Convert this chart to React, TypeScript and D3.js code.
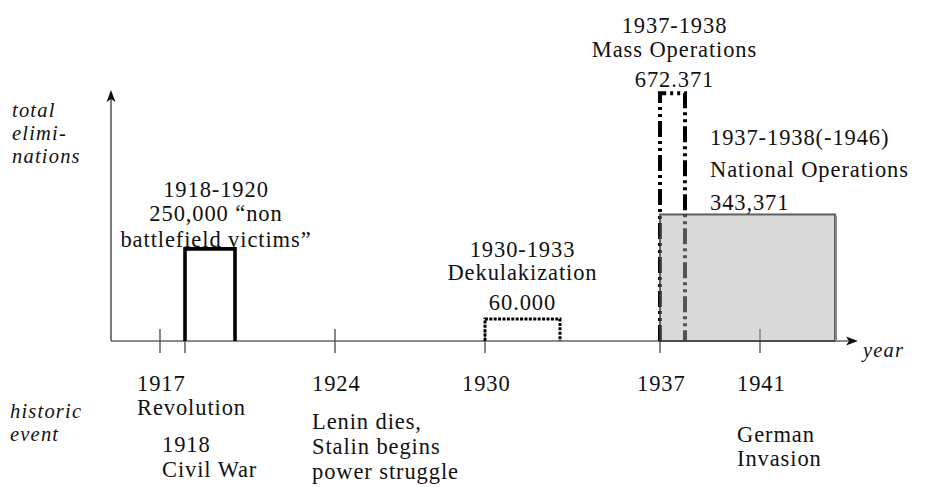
import * as d3 from "d3";

// periods of repression (start year, end year, total eliminations)
const periodNames = ["civil", "dekulak", "mass", "national"];
const periodStarts = [1918, 1930, 1937, 1937];
const periodEnds = [1920, 1933, 1938, 1944];
const periodValues = [250000, 60000, 672371, 343371];

const tickYears = [1917, 1918, 1924, 1930, 1937, 1941];

// label lines above the periods
const civilLabel = ["1918-1920", "250,000 \u201cnon", "battlefield victims\u201d"];
const dekulakLabel = ["1930-1933", "Dekulakization", "60.000"];
const massLabel = ["1937-1938", "Mass Operations", "672.371"];
const nationalLabel = ["1937-1938(-1946)", "National Operations", "343,371"];

// historic events under the axis
const eventYears = [1917, 1918, 1924, 1930, 1937, 1941];
const eventLines = [
  ["Revolution"],
  ["Civil War"],
  ["Lenin dies,", "Stalin begins", "power struggle"],
  [],
  [],
  ["German", "Invasion"],
];

const W = 930;
const H = 487;
const AXIS_Y = 341;
const AXIS_X = 111;
const FONT = "'Liberation Serif', 'Times New Roman', serif";
const FS = 22.5;
const LS = "0.9px";

const x = d3.scaleLinear().domain([1917, 1924]).range([160, 335]);
const y = d3.scaleLinear().domain([0, 700000]).range([AXIS_Y, AXIS_Y - 258]);

function Lines({ lines, x0, baselines, anchor = "middle", italic = false }) {
  return (
    <text
      fontFamily={FONT}
      fontSize={italic ? 20.5 : FS}
      letterSpacing={italic ? "1.2px" : LS}
      fontStyle={italic ? "italic" : "normal"}
      textAnchor={anchor}
      fill="#111"
    >
      {lines.map((t, i) => (
        <tspan key={i} x={x0} y={baselines[i]}>
          {t}
        </tspan>
      ))}
    </text>
  );
}

export default function App() {
  const barPath = (i) => {
    const x0 = x(periodStarts[i]);
    const x1 = x(periodEnds[i]);
    const top = y(periodValues[i]);
    return `M${x0},${AXIS_Y}V${top}H${x1}V${AXIS_Y}`;
  };
  const top = periodValues.map((v) => y(v));

  const natX0 = x(periodStarts[3]);
  const natX1 = x(periodEnds[3]);

  return (
    <svg width={W} height={H} style={{ display: "block", position: "absolute", left: 0, top: 0 }}>
      <rect width={W} height={H} fill="white" />

      {/* axes */}
      <line x1={AXIS_X} x2={850} y1={AXIS_Y} y2={AXIS_Y} stroke="#666" strokeWidth={1.6} />
      <line x1={AXIS_X} x2={AXIS_X} y1={AXIS_Y} y2={98} stroke="#444" strokeWidth={1.4} />
      <path d={`M858,${AXIS_Y} L846,${AXIS_Y - 4.5} L849,${AXIS_Y} L846,${AXIS_Y + 4.5} Z`} fill="#111" />
      <path d={`M${AXIS_X},90 L${AXIS_X - 4.5},102 L${AXIS_X},99 L${AXIS_X + 4.5},102 Z`} fill="#111" />

      {tickYears.map((yr) => (
        <line
          key={yr}
          x1={x(yr)}
          x2={x(yr)}
          y1={AXIS_Y - 12}
          y2={AXIS_Y + 12}
          stroke="#555"
          strokeWidth={1.4}
        />
      ))}

      {/* periods */}
      <path d={barPath(0)} fill="none" stroke="#000" strokeWidth={3.6} />
      <path d={barPath(1)} fill="none" stroke="#000" strokeWidth={3} strokeDasharray="3 1.4" />
      <path
        d={barPath(2)}
        fill="none"
        stroke="#000"
        strokeWidth={4}
        strokeDasharray="16 4 3 4 3 4"
      />
      <rect
        x={natX0}
        y={top[3]}
        width={natX1 - natX0}
        height={AXIS_Y - top[3]}
        fill="rgb(176,176,176)"
        fillOpacity={0.48}
        stroke="#333"
        strokeOpacity={0.75}
        strokeWidth={2}
      />
      <line
        x1={natX1 + 1}
        x2={natX1 + 1}
        y1={top[3] + 1}
        y2={AXIS_Y}
        stroke="#888"
        strokeWidth={2}
      />

      {/* period labels */}
      <Lines
        lines={civilLabel}
        x0={x(periodStarts[0]) + 31}
        baselines={[top[0] - 52, top[0] - 28, top[0] - 2]}
      />
      <Lines
        lines={dekulakLabel}
        x0={(x(periodStarts[1]) + x(periodEnds[1])) / 2}
        baselines={[top[1] - 62, top[1] - 39, top[1] - 9]}
      />
      <Lines
        lines={massLabel}
        x0={(x(periodStarts[2]) + x(periodEnds[2])) / 2 + 2}
        baselines={[top[2] - 60, top[2] - 36, top[2] - 6]}
      />
      <Lines
        lines={nationalLabel}
        x0={x(1939)}
        anchor="start"
        baselines={[top[3] - 69, top[3] - 37, top[3] - 4]}
      />

      {/* axis titles */}
      <Lines lines={["total", "elimi-", "nations"]} x0={12} anchor="start" italic baselines={[117, 140, 163]} />
      <Lines lines={["year"]} x0={863} anchor="start" italic baselines={[357]} />
      <Lines lines={["historic", "event"]} x0={10} anchor="start" italic baselines={[418, 441]} />

      {/* historic events */}
      {eventYears.map((yr, i) => {
        const x0 = x(yr) - 23;
        let base;
        if (yr === 1918) base = [452, 477];
        else if (yr === 1924) base = [429, 454, 479];
        else if (yr === 1941) base = [442, 466];
        else base = [415];
        const yearLine = yr === 1918 ? [] : [String(yr)];
        const lines = yr === 1918 ? [String(yr), ...eventLines[i]] : eventLines[i];
        return (
          <g key={yr}>
            {yearLine.length > 0 && <Lines lines={yearLine} x0={x0} anchor="start" baselines={[391]} />}
            <Lines lines={lines} x0={x0} anchor="start" baselines={base} />
          </g>
        );
      })}
    </svg>
  );
}
